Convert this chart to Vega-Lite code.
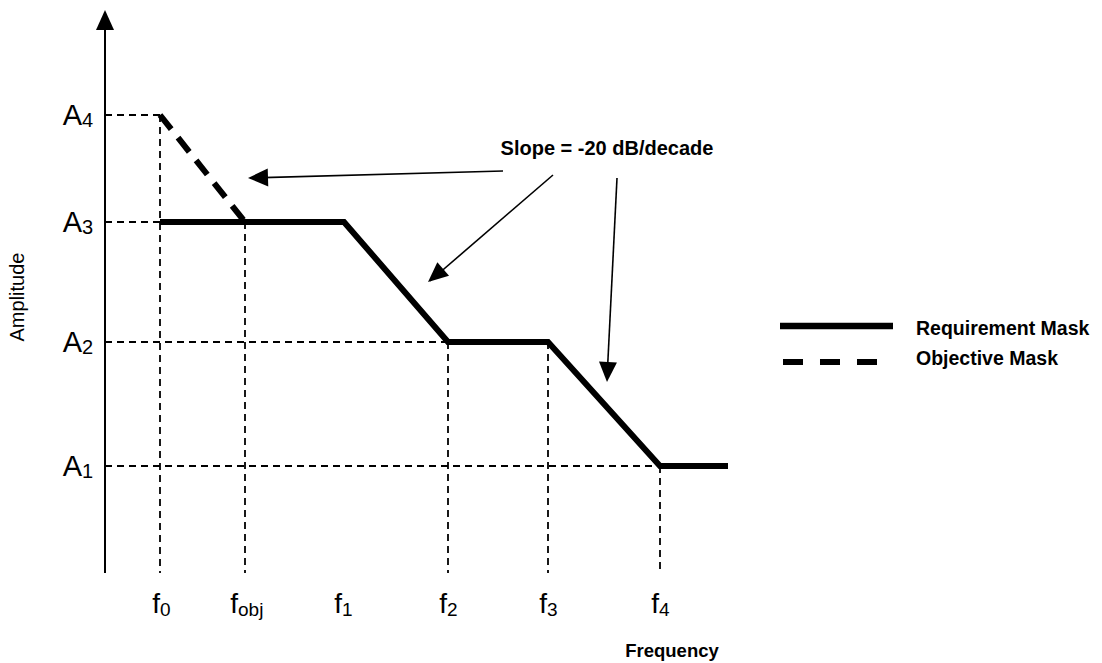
{
  "$schema": "https://vega.github.io/schema/vega-lite/v6.json",
  "width": 1102,
  "height": 663,
  "autosize": {"type": "none"},
  "padding": 0,
  "background": "white",
  "config": {"view": {"stroke": null}},
  "datasets": {
    "guides": [
      {"x": 105, "y": 548, "x2": 160, "y2": 548},
      {"x": 105, "y": 441, "x2": 245, "y2": 441},
      {"x": 105, "y": 321, "x2": 448, "y2": 321},
      {"x": 105, "y": 197, "x2": 660, "y2": 197},
      {"x": 160, "y": 548, "x2": 160, "y2": 90},
      {"x": 245, "y": 441, "x2": 245, "y2": 90},
      {"x": 448, "y": 321, "x2": 448, "y2": 90},
      {"x": 548, "y": 321, "x2": 548, "y2": 90},
      {"x": 660, "y": 197, "x2": 660, "y2": 90}
    ],
    "axis": [{"x": 105, "y": 90, "x2": 105, "y2": 640}],
    "arrows": [
      {"x": 503, "y": 492, "x2": 250, "y2": 485},
      {"x": 553, "y": 488, "x2": 430, "y2": 382},
      {"x": 617, "y": 485, "x2": 607, "y2": 284}
    ],
    "heads": [
      {"x": 105, "y": 653, "angle": 0},
      {"x": 248, "y": 485, "angle": 268.4},
      {"x": 428, "y": 381, "angle": 229.4},
      {"x": 607, "y": 281, "angle": 182.8}
    ],
    "requirement": [
      {"i": 0, "x": 160, "y": 441},
      {"i": 1, "x": 344, "y": 441},
      {"i": 2, "x": 448, "y": 321},
      {"i": 3, "x": 548, "y": 321},
      {"i": 4, "x": 660, "y": 197},
      {"i": 5, "x": 728, "y": 197}
    ],
    "objective": [
      {"i": 0, "x": 160, "y": 548},
      {"i": 1, "x": 245, "y": 441}
    ],
    "legendSolid": [{"x": 780, "y": 337, "x2": 893, "y2": 337}],
    "legendDashed": [{"x": 783, "y": 301, "x2": 880, "y2": 301}],
    "aLabels": [
      {"main": "A", "sub": "4", "x": 82, "y": 548},
      {"main": "A", "sub": "3", "x": 82, "y": 441},
      {"main": "A", "sub": "2", "x": 82, "y": 321},
      {"main": "A", "sub": "1", "x": 82, "y": 197}
    ],
    "fLabels": [
      {"main": "f", "sub": "0", "x": 160, "y": 50},
      {"main": "f", "sub": "obj", "x": 238, "y": 50},
      {"main": "f", "sub": "1", "x": 342, "y": 50},
      {"main": "f", "sub": "2", "x": 447, "y": 50},
      {"main": "f", "sub": "3", "x": 547, "y": 50},
      {"main": "f", "sub": "4", "x": 659, "y": 50}
    ],
    "texts": [
      {"text": "Frequency", "x": 672, "y": 6, "role": "center"},
      {"text": "Slope = -20 dB/decade", "x": 607, "y": 508, "role": "center"},
      {"text": "Requirement Mask", "x": 916, "y": 328, "role": "left"},
      {"text": "Objective Mask", "x": 916, "y": 298, "role": "left"}
    ],
    "ylabel": [{"text": "Amplitude", "x": 18, "y": 366}]
  },
  "layer": [
    {
      "data": {"name": "guides"},
      "mark": {"type": "rule", "color": "black", "strokeWidth": 1.8, "strokeDash": [7, 5]},
      "encoding": {
        "x": {"field": "x", "type": "quantitative", "scale": {"domain": [0, 1102], "nice": false, "zero": false}, "axis": null},
        "y": {"field": "y", "type": "quantitative", "scale": {"domain": [0, 663], "nice": false, "zero": false}, "axis": null},
        "x2": {"field": "x2"},
        "y2": {"field": "y2"}
      }
    },
    {
      "data": {"name": "axis"},
      "mark": {"type": "rule", "color": "black", "strokeWidth": 2},
      "encoding": {
        "x": {"field": "x", "type": "quantitative"},
        "y": {"field": "y", "type": "quantitative"},
        "x2": {"field": "x2"},
        "y2": {"field": "y2"}
      }
    },
    {
      "data": {"name": "arrows"},
      "mark": {"type": "rule", "color": "black", "strokeWidth": 1.6},
      "encoding": {
        "x": {"field": "x", "type": "quantitative"},
        "y": {"field": "y", "type": "quantitative"},
        "x2": {"field": "x2"},
        "y2": {"field": "y2"}
      }
    },
    {
      "data": {"name": "heads"},
      "mark": {"type": "point", "shape": "M0,0L0.9,2L-0.9,2Z", "size": 400, "filled": true, "color": "black", "opacity": 1, "strokeWidth": 0},
      "encoding": {
        "x": {"field": "x", "type": "quantitative"},
        "y": {"field": "y", "type": "quantitative"},
        "angle": {"field": "angle", "type": "quantitative", "scale": null}
      }
    },
    {
      "data": {"name": "requirement"},
      "mark": {"type": "line", "color": "black", "strokeWidth": 6, "strokeJoin": "miter", "strokeCap": "butt"},
      "encoding": {
        "x": {"field": "x", "type": "quantitative"},
        "y": {"field": "y", "type": "quantitative"},
        "order": {"field": "i", "type": "quantitative"}
      }
    },
    {
      "data": {"name": "objective"},
      "mark": {"type": "line", "color": "black", "strokeWidth": 6, "strokeDash": [18, 11], "strokeCap": "butt"},
      "encoding": {
        "x": {"field": "x", "type": "quantitative"},
        "y": {"field": "y", "type": "quantitative"},
        "order": {"field": "i", "type": "quantitative"}
      }
    },
    {
      "data": {"name": "legendSolid"},
      "mark": {"type": "rule", "color": "black", "strokeWidth": 6.5},
      "encoding": {
        "x": {"field": "x", "type": "quantitative"},
        "y": {"field": "y", "type": "quantitative"},
        "x2": {"field": "x2"},
        "y2": {"field": "y2"}
      }
    },
    {
      "data": {"name": "legendDashed"},
      "mark": {"type": "rule", "color": "black", "strokeWidth": 6, "strokeDash": [20, 17]},
      "encoding": {
        "x": {"field": "x", "type": "quantitative"},
        "y": {"field": "y", "type": "quantitative"},
        "x2": {"field": "x2"},
        "y2": {"field": "y2"}
      }
    },
    {
      "data": {"name": "aLabels"},
      "mark": {"type": "text", "align": "right", "baseline": "alphabetic", "dy": 10, "fontSize": 29, "font": "Liberation Sans", "color": "black"},
      "encoding": {
        "x": {"field": "x", "type": "quantitative"},
        "y": {"field": "y", "type": "quantitative"},
        "text": {"field": "main"}
      }
    },
    {
      "data": {"name": "aLabels"},
      "mark": {"type": "text", "align": "left", "baseline": "alphabetic", "dy": 12, "fontSize": 20, "font": "Liberation Sans", "color": "black"},
      "encoding": {
        "x": {"field": "x", "type": "quantitative"},
        "y": {"field": "y", "type": "quantitative"},
        "text": {"field": "sub"}
      }
    },
    {
      "data": {"name": "fLabels"},
      "mark": {"type": "text", "align": "right", "baseline": "alphabetic", "fontSize": 28, "font": "Liberation Sans", "color": "black"},
      "encoding": {
        "x": {"field": "x", "type": "quantitative"},
        "y": {"field": "y", "type": "quantitative"},
        "text": {"field": "main"}
      }
    },
    {
      "data": {"name": "fLabels"},
      "mark": {"type": "text", "align": "left", "baseline": "alphabetic", "dy": 3, "fontSize": 19, "font": "Liberation Sans", "color": "black"},
      "encoding": {
        "x": {"field": "x", "type": "quantitative"},
        "y": {"field": "y", "type": "quantitative"},
        "text": {"field": "sub"}
      }
    },
    {
      "data": {"name": "texts"},
      "transform": [{"filter": "datum.role == 'center'"}],
      "mark": {"type": "text", "align": "center", "baseline": "alphabetic", "fontSize": 19, "fontWeight": "bold", "font": "Liberation Sans", "color": "black"},
      "encoding": {
        "x": {"field": "x", "type": "quantitative"},
        "y": {"field": "y", "type": "quantitative"},
        "text": {"field": "text"},
        "size": {"condition": {"test": "datum.text == 'Frequency'", "value": 18.5}, "value": 20, "legend": null}
      }
    },
    {
      "data": {"name": "texts"},
      "transform": [{"filter": "datum.role == 'left'"}],
      "mark": {"type": "text", "align": "left", "baseline": "alphabetic", "fontSize": 19.5, "fontWeight": "bold", "font": "Liberation Sans", "color": "black"},
      "encoding": {
        "x": {"field": "x", "type": "quantitative"},
        "y": {"field": "y", "type": "quantitative"},
        "text": {"field": "text"}
      }
    },
    {
      "data": {"name": "ylabel"},
      "mark": {"type": "text", "align": "center", "baseline": "middle", "angle": 270, "fontSize": 20, "font": "Liberation Sans", "color": "black"},
      "encoding": {
        "x": {"field": "x", "type": "quantitative"},
        "y": {"field": "y", "type": "quantitative"},
        "text": {"field": "text"}
      }
    }
  ]
}
